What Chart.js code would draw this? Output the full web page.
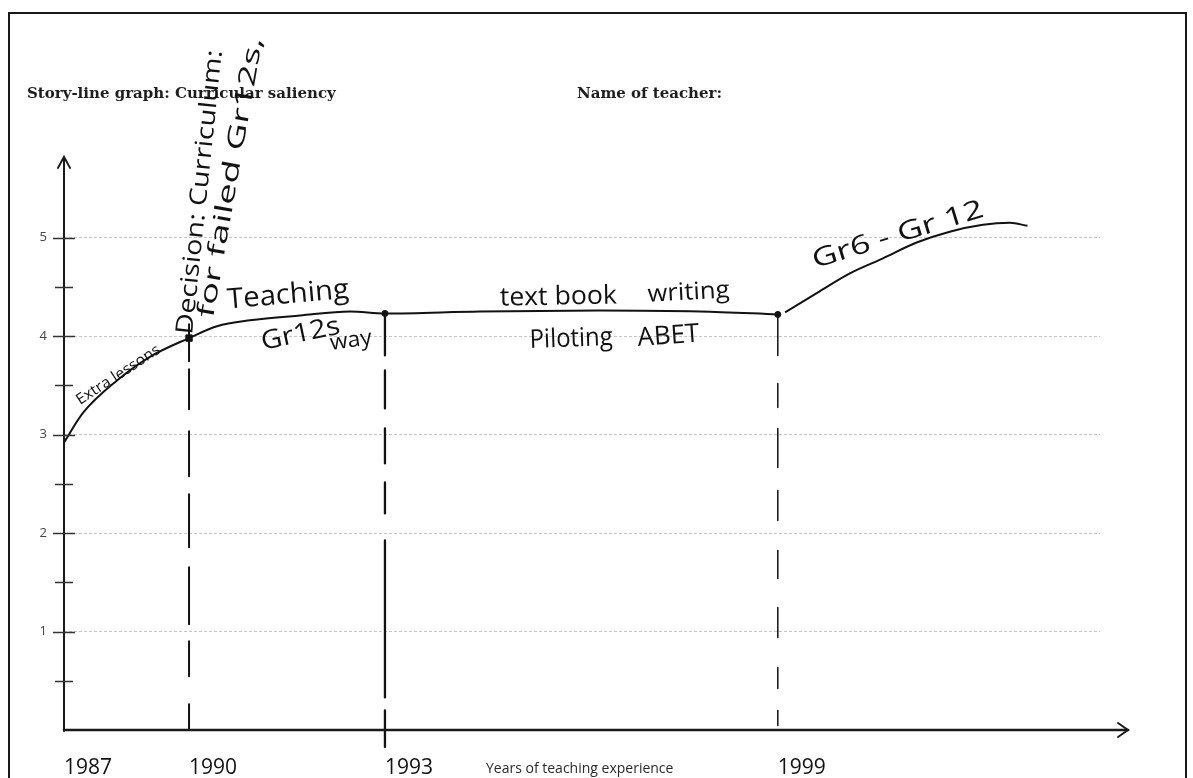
<!DOCTYPE html>
<html>
<head>
<meta charset="utf-8">
<script src="https://cdn.jsdelivr.net/npm/chart.js@4/dist/chart.umd.min.js"></script>
<style>
  html, body { margin: 0; padding: 0; background: #fff; overflow: hidden; }
  #wrap { position: relative; width: 1193px; height: 778px; }
</style>
</head>
<body>
<div id="wrap"><canvas id="story" width="1193" height="778"></canvas></div>
<script>
// Milestones along the time axis (position 0-100 along the drawn axis)
const milestoneYears = ['1987', '1990', '1993', '1999'];
const milestonePos   = [0, 12.07, 30.98, 68.9];
const milestoneLevel = [2.92, 3.98, 4.23, 4.22];

// Story line: position along the time axis and curricular saliency level
const storyPos   = [0, 1.83, 5.12, 8.3, 12.07, 14.77, 17.95, 22.78, 27.61, 30.98,
                    40.15, 51.7, 61.4, 68.9, 69.25, 69.6, 72.7, 75.9, 79.05, 82.3,
                    85.5, 88.7, 91.3, 93.0];
const storyLevel = [2.92, 3.22, 3.55, 3.79, 3.98, 4.10, 4.16, 4.21, 4.25, 4.23,
                    4.25, 4.26, 4.25, 4.22, null, 4.24, 4.44, 4.64, 4.79, 4.95,
                    5.06, 5.13, 5.15, 5.12];

// Saliency scale
const yTicks      = [1, 2, 3, 4, 5];
const yMinorTicks = [0.5, 1.5, 2.5, 3.5, 4.5];

// Handwritten notes on the graph
const noteTexts = ['Extra lessons', 'Decision: Curriculum:', 'for failed Gr12s,', 'Teaching',
                   'Gr12s', 'way', 'text book', 'writing', 'Piloting', 'ABET', 'Gr6 - Gr 12'];

const HAND = '"Open Sans", "DejaVu Sans", sans-serif';
const INK = '#121212';

// Placement of each note: anchor in axis units, rotation, font size, drawn length
const noteLayout = [
  { at: [1.54, 3.30],  angle: -33, size: 15, span: 97 },
  { at: [12.36, 4.01], angle: -84, size: 24, span: 286 },
  { at: [14.38, 4.18], angle: -80, size: 24, span: 284 },
  { at: [15.83, 4.28], angle: -5,  size: 28, span: 122 },
  { at: [19.21, 3.86], angle: -12, size: 26, span: 80 },
  { at: [25.77, 3.86], angle: -8,  size: 22, span: 42 },
  { at: [42.08, 4.31], angle: -1,  size: 26, span: 117 },
  { at: [56.37, 4.35], angle: -3,  size: 24, span: 82 },
  { at: [44.98, 3.88], angle: -2,  size: 26, span: 83 },
  { at: [55.41, 3.90], angle: -4,  size: 26, span: 62 },
  { at: [72.49, 4.69], angle: -17, size: 26, span: 178 }
];

// Hand-drawn dash rhythm of the drop lines under each milestone
const dropStyle = [
  null,
  { from: 0.14, width: 2.0, dash: [37, 8, 40, 22, 45, 18, 53, 20, 57, 17, 35, 28, 25, 10] },
  { from: 0.0,  width: 2.3, dash: [42, 15, 38, 20, 35, 19, 31, 27, 157, 13, 40, 10] },
  { from: -0.02, width: 1.5, dash: [39, 28, 24, 21, 39, 23, 30, 30, 28, 29, 30, 30, 21, 22, 15, 10] }
];

const sketchPlugin = {
  id: 'sketch',
  beforeDatasetsDraw(chart) {
    const { ctx, scales: { x, y } } = chart;
    ctx.save();
    ctx.strokeStyle = INK;
    ctx.lineCap = 'round';
    milestonePos.forEach((p, i) => {
      const st = dropStyle[i];
      if (!st) return;
      const px = x.getPixelForValue(p);
      const top = y.getPixelForValue(milestoneLevel[i] + st.from);
      const bottom = y.getPixelForValue(0) + (i === 2 ? 17 : 0);
      ctx.lineWidth = st.width;
      ctx.setLineDash(st.dash);
      ctx.beginPath();
      ctx.moveTo(px, top);
      ctx.lineTo(px, bottom);
      ctx.stroke();
    });
    ctx.restore();
  },
  afterDraw(chart) {
    const { ctx, scales: { x, y } } = chart;
    const ox = x.getPixelForValue(0);
    const oy = y.getPixelForValue(0);
    ctx.save();

    // page frame
    ctx.strokeStyle = '#1a1a1a';
    ctx.lineWidth = 2;
    ctx.strokeRect(9, 13, 1177, 800);

    // headings
    ctx.fillStyle = '#1e1e1e';
    ctx.font = 'bold 15px "DejaVu Serif", "Liberation Serif", serif';
    ctx.textBaseline = 'alphabetic';
    ctx.textAlign = 'left';
    ctx.fillText('Story-line graph: Curricular saliency', 27, 98);
    ctx.fillText('Name of teacher:', 577, 98);

    // axis title
    ctx.fillStyle = '#2a2a2a';
    ctx.font = '14px "Open Sans", "Liberation Sans", sans-serif';
    ctx.fillText('Years of teaching experience', 486, 773);

    // axes with arrow heads
    ctx.strokeStyle = '#1a1a1a';
    ctx.lineCap = 'round';
    ctx.lineWidth = 2;
    const yTip = y.getPixelForValue(5.82);
    ctx.beginPath();
    ctx.moveTo(ox, oy + 1);
    ctx.lineTo(ox, yTip);
    ctx.moveTo(ox - 6, yTip + 11);
    ctx.lineTo(ox, yTip);
    ctx.lineTo(ox + 6, yTip + 11);
    ctx.stroke();

    const xTip = x.right + 28;
    ctx.lineWidth = 2.6;
    ctx.beginPath();
    ctx.moveTo(ox, oy);
    ctx.lineTo(xTip, oy);
    ctx.stroke();
    ctx.lineWidth = 2;
    ctx.beginPath();
    ctx.moveTo(xTip - 10, oy - 7);
    ctx.lineTo(xTip, oy);
    ctx.lineTo(xTip - 10, oy + 7);
    ctx.stroke();

    // tick marks on the saliency axis
    ctx.lineCap = 'butt';
    ctx.strokeStyle = '#333';
    ctx.lineWidth = 1.6;
    ctx.beginPath();
    yTicks.forEach(v => {
      const py = Math.round(y.getPixelForValue(v)) + 0.5;
      ctx.moveTo(ox - 11, py);
      ctx.lineTo(ox + 11, py);
    });
    yMinorTicks.forEach(v => {
      const py = Math.round(y.getPixelForValue(v)) + 0.5;
      ctx.moveTo(ox - 9, py);
      ctx.lineTo(ox + 9, py);
    });
    ctx.stroke();

    // handwritten notes
    ctx.fillStyle = INK;
    ctx.textBaseline = 'alphabetic';
    ctx.textAlign = 'left';
    noteTexts.forEach((t, i) => {
      const n = noteLayout[i];
      const px = x.getPixelForValue(n.at[0]);
      const py = y.getPixelForValue(n.at[1]);
      ctx.save();
      ctx.translate(px, py);
      ctx.rotate(n.angle * Math.PI / 180);
      ctx.font = `${n.size}px ${HAND}`;
      const w = ctx.measureText(t).width;
      ctx.scale(n.span / w, 1);
      ctx.fillText(t, 0, 0);
      ctx.restore();
    });
    ctx.restore();
  }
};

new Chart(document.getElementById('story'), {
  type: 'line',
  data: {
    datasets: [
      {
        label: 'Curricular saliency',
        data: storyPos.map((p, i) => ({ x: p, y: storyLevel[i] })),
        borderColor: INK,
        borderWidth: 2,
        pointRadius: 0,
        spanGaps: false,
        cubicInterpolationMode: 'monotone',
        order: 2
      },
      {
        label: 'Milestones',
        data: milestonePos.map((p, i) => ({ x: p, y: milestoneLevel[i] })),
        showLine: false,
        pointStyle: ['circle', 'rect', 'circle', 'circle'],
        pointRadius: [0, 4.5, 3, 3],
        backgroundColor: INK,
        borderColor: INK,
        borderWidth: 1,
        order: 1
      }
    ]
  },
  options: {
    responsive: false,
    animation: false,
    events: [],
    layout: { padding: { top: 149, right: 93, bottom: 0, left: 0 } },
    plugins: { legend: { display: false }, tooltip: { enabled: false }, title: { display: false } },
    scales: {
      x: {
        type: 'linear',
        min: 0,
        max: 100,
        afterFit(scale) { scale.height = 48; },
        afterBuildTicks(scale) { scale.ticks = milestonePos.map(v => ({ value: v })); },
        grid: { display: false, drawTicks: false },
        border: { display: false },
        ticks: {
          autoSkip: false,
          maxRotation: 0,
          align: 'start',
          padding: 25,
          color: INK,
          font: { family: HAND, size: 21 },
          callback: (value, index) => milestoneYears[index]
        }
      },
      y: {
        min: 0,
        max: 5.9,
        afterFit(scale) { scale.width = 64; },
        afterBuildTicks(scale) { scale.ticks = yTicks.map(v => ({ value: v })); },
        grid: { color: '#c6c6c6', lineWidth: 1, drawTicks: false },
        border: { display: false, dash: [3, 2] },
        ticks: {
          padding: 17,
          color: '#444',
          font: { family: '"Open Sans", sans-serif', size: 13 }
        }
      }
    }
  },
  plugins: [sketchPlugin]
});
</script>
</body>
</html>
